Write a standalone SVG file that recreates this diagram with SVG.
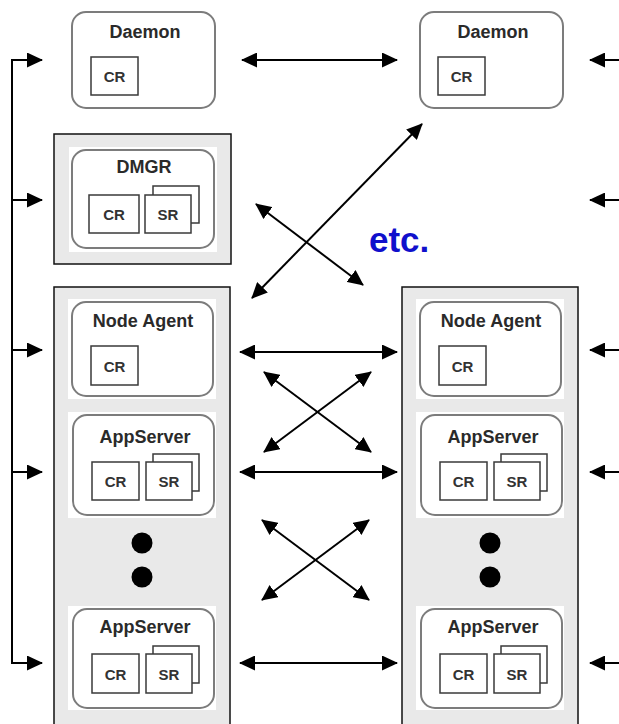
<svg xmlns="http://www.w3.org/2000/svg" width="619" height="724" viewBox="0 0 619 724">
<style>
.cont{fill:#e9e9e9;stroke:#111;stroke-width:1.5}
.bg{fill:#fff;stroke:none}
.node{fill:#fff;stroke:#7c7c7c;stroke-width:2}
.box{fill:#fff;stroke:#3a3a3a;stroke-width:1.5}
.title{font-family:"Liberation Sans",Arial,sans-serif;font-weight:bold;font-size:18px;fill:#2a2a2a;text-anchor:middle}
.lbl{font-family:"Liberation Sans",Arial,sans-serif;font-weight:bold;font-size:15px;fill:#333;text-anchor:middle}
.dot{fill:#000}
.c{stroke:#000;stroke-width:2;fill:none}
.etc{font-family:"Liberation Sans",Arial,sans-serif;font-weight:bold;font-size:35px;fill:#1010cc}
</style>
<defs>
<marker id="ah" viewBox="0 0 16 15" refX="15" refY="7.5" markerWidth="16" markerHeight="15" markerUnits="userSpaceOnUse" orient="auto-start-reverse">
<path d="M0,0 L16,7.5 L0,15 z" fill="#000"/>
</marker>
</defs>

<g id="daemon-left">
<rect class="node" x="72" y="12" width="143" height="96" rx="14"/>
<text class="title" x="145" y="38">Daemon</text>
<rect class="box" x="91" y="57" width="47" height="38"/>
<text class="lbl" x="114.5" y="82">CR</text>
</g>

<g id="daemon-right">
<rect class="node" x="420" y="12" width="143" height="96" rx="14"/>
<text class="title" x="493" y="38">Daemon</text>
<rect class="box" x="438" y="57" width="47" height="38"/>
<text class="lbl" x="461.5" y="82">CR</text>
</g>

<g id="dmgr">
<rect class="cont" x="54" y="134" width="177" height="130"/>
<rect class="bg" x="69" y="147" width="148" height="105"/>
<rect class="node" x="72" y="150" width="142" height="98" rx="14"/>
<text class="title" x="144" y="173">DMGR</text>
<rect class="box" x="89" y="195" width="50" height="38"/>
<text class="lbl" x="114" y="220">CR</text>
<rect class="box" x="153" y="186" width="46" height="37"/>
<rect class="box" x="145" y="195" width="46" height="38"/>
<text class="lbl" x="168" y="220">SR</text>
</g>

<g id="node-left">
<rect class="cont" x="54" y="287" width="176" height="450"/>
<g id="nodeagent-left">
<rect class="bg" x="68" y="299" width="148" height="100"/>
<rect class="node" x="72" y="302" width="141" height="94" rx="14"/>
<text class="title" x="143" y="327">Node Agent</text>
<rect class="box" x="91" y="346" width="47" height="39"/>
<text class="lbl" x="114.5" y="372">CR</text>
</g>
<g id="appserver1-left">
<rect class="bg" x="68" y="412" width="148" height="106"/>
<rect class="node" x="73" y="415" width="141" height="100" rx="14"/>
<text class="title" x="145" y="443">AppServer</text>
<rect class="box" x="92" y="462" width="47" height="38"/>
<text class="lbl" x="115.5" y="487">CR</text>
<rect class="box" x="153" y="454" width="46" height="37"/>
<rect class="box" x="146" y="462" width="46" height="38"/>
<text class="lbl" x="169" y="487">SR</text>
</g>
<circle class="dot" cx="142" cy="543" r="10.5"/>
<circle class="dot" cx="142" cy="577" r="10.5"/>
<g id="appserver2-left">
<rect class="bg" x="68" y="606" width="148" height="104"/>
<rect class="node" x="73" y="609" width="141" height="99" rx="14"/>
<text class="title" x="145" y="633">AppServer</text>
<rect class="box" x="92" y="654" width="47" height="39"/>
<text class="lbl" x="115.5" y="680">CR</text>
<rect class="box" x="153" y="646" width="46" height="37"/>
<rect class="box" x="146" y="654" width="46" height="39"/>
<text class="lbl" x="169" y="680">SR</text>
</g>
</g>

<g id="node-right">
<rect class="cont" x="402" y="287" width="176" height="450"/>
<g id="nodeagent-right">
<rect class="bg" x="416" y="299" width="148" height="100"/>
<rect class="node" x="420" y="302" width="141" height="94" rx="14"/>
<text class="title" x="491" y="327">Node Agent</text>
<rect class="box" x="439" y="346" width="47" height="39"/>
<text class="lbl" x="462.5" y="372">CR</text>
</g>
<g id="appserver1-right">
<rect class="bg" x="416" y="412" width="148" height="106"/>
<rect class="node" x="421" y="415" width="141" height="100" rx="14"/>
<text class="title" x="493" y="443">AppServer</text>
<rect class="box" x="440" y="462" width="47" height="38"/>
<text class="lbl" x="463.5" y="487">CR</text>
<rect class="box" x="501" y="454" width="46" height="37"/>
<rect class="box" x="494" y="462" width="46" height="38"/>
<text class="lbl" x="517" y="487">SR</text>
</g>
<circle class="dot" cx="490" cy="543" r="10.5"/>
<circle class="dot" cx="490" cy="577" r="10.5"/>
<g id="appserver2-right">
<rect class="bg" x="416" y="606" width="148" height="104"/>
<rect class="node" x="421" y="609" width="141" height="99" rx="14"/>
<text class="title" x="493" y="633">AppServer</text>
<rect class="box" x="440" y="654" width="47" height="39"/>
<text class="lbl" x="463.5" y="680">CR</text>
<rect class="box" x="501" y="646" width="46" height="37"/>
<rect class="box" x="494" y="654" width="46" height="39"/>
<text class="lbl" x="517" y="680">SR</text>
</g>
</g>

<text id="etc" class="etc" x="369" y="252">etc.</text>

<g id="connectors">
<path class="c" d="M42,60 H12 V663 H42" marker-end="url(#ah)" marker-start="url(#ah)"/>
<line class="c" x1="12" y1="200" x2="42" y2="200" marker-end="url(#ah)"/>
<line class="c" x1="12" y1="350" x2="42" y2="350" marker-end="url(#ah)"/>
<line class="c" x1="12" y1="472" x2="42" y2="472" marker-end="url(#ah)"/>

<line class="c" x1="619" y1="60" x2="590" y2="60" marker-end="url(#ah)"/>
<line class="c" x1="619" y1="200" x2="590" y2="200" marker-end="url(#ah)"/>
<line class="c" x1="619" y1="350" x2="590" y2="350" marker-end="url(#ah)"/>
<line class="c" x1="619" y1="472" x2="590" y2="472" marker-end="url(#ah)"/>
<line class="c" x1="619" y1="663" x2="590" y2="663" marker-end="url(#ah)"/>

<line class="c" x1="242" y1="60" x2="397" y2="60" marker-start="url(#ah)" marker-end="url(#ah)"/>
<line class="c" x1="240" y1="352" x2="397" y2="352" marker-start="url(#ah)" marker-end="url(#ah)"/>
<line class="c" x1="240" y1="472" x2="397" y2="472" marker-start="url(#ah)" marker-end="url(#ah)"/>
<line class="c" x1="240" y1="663" x2="397" y2="663" marker-start="url(#ah)" marker-end="url(#ah)"/>

<line class="c" x1="252" y1="298" x2="422" y2="124" marker-start="url(#ah)" marker-end="url(#ah)"/>
<line class="c" x1="256" y1="204" x2="363" y2="285" marker-start="url(#ah)" marker-end="url(#ah)"/>

<line class="c" x1="264" y1="372" x2="371" y2="452" marker-start="url(#ah)" marker-end="url(#ah)"/>
<line class="c" x1="371" y1="372" x2="264" y2="452" marker-start="url(#ah)" marker-end="url(#ah)"/>
<line class="c" x1="262" y1="520" x2="369" y2="600" marker-start="url(#ah)" marker-end="url(#ah)"/>
<line class="c" x1="369" y1="520" x2="262" y2="600" marker-start="url(#ah)" marker-end="url(#ah)"/>
</g>
</svg>
